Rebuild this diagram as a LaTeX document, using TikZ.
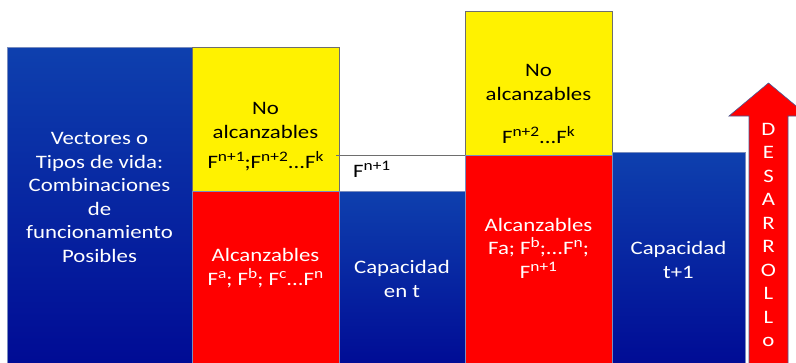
\documentclass[tikz,border=0pt]{standalone}
\usepackage{fontspec}
\setmainfont{Carlito}[FakeStretch=1.2]
\definecolor{bluetop}{RGB}{14,64,174}
\definecolor{bluebot}{RGB}{0,10,148}
\definecolor{edgeblue}{RGB}{120,140,190}
\definecolor{edgegray}{RGB}{110,110,110}
\definecolor{arrowedge}{RGB}{70,90,150}
% raised exponent for the F labels
\newcommand\sps[1]{\raisebox{0.36em}{\fontsize{14.5}{14.5}\selectfont #1}}
\tikzset{
  bluebox/.style={shading=axis, top color=bluetop, bottom color=bluebot, draw=edgeblue, line width=0.6pt},
  yellowbox/.style={fill=yellow, draw=edgegray, line width=0.6pt},
  redbox/.style={fill=red, draw=edgeblue, line width=0.4pt},
  txt/.style={anchor=base, inner sep=0pt, font=\fontsize{19}{23.5}\selectfont, align=center},
  wtxt/.style={txt, text=white},
  btxt/.style={txt, text=black},
}
\begin{document}
\begin{tikzpicture}[x=1pt, y=-1pt]
\useasboundingbox (0,0) rectangle (796,362);
\clip (0,0) rectangle (796,362);
\fill[white] (0,0) rectangle (796,362);

% columns
\path[bluebox] (7,47) rectangle (192,370);
\path[yellowbox] (192,47) rectangle (339,191);
\path[redbox] (192,191) rectangle (339,370);
\draw[edgegray, line width=1pt] (336,155) -- (467,155);
\path[bluebox] (339,191) rectangle (465,370);
\path[yellowbox] (465,11) rectangle (612,155);
\path[redbox] (465,155) rectangle (612,370);
\path[bluebox] (612,152) rectangle (745,370);

% development arrow
\path[fill=red, draw=arrowedge, line width=0.6pt]
  (749,370) -- (749,116) -- (729,116) -- (768.5,83) -- (808,116) -- (788,116) -- (788,370) -- cycle;

% labels (a multi-line node sits on the baseline of its last line)
\node[wtxt] (vec) at (99.5,262) {Vectores o\\Tipos de vida:\\Combinaciones\\de\\funcionamiento\\Posibles};
\node[btxt] (no1) at (265.5,138) {No\\alcanzables};
\node[btxt] (f1) at (265.5,168) {F\sps{n+1};F\sps{n+2}...F\sps{k}};
\node[wtxt] (al1) at (265.5,285) {Alcanzables\\F\sps{a}; F\sps{b}; F\sps{c}...F\sps{n}};
\node[btxt, anchor=base west] (fn) at (353,177) {F\sps{n+1}};
\node[wtxt] (cap1) at (402,297) {Capacidad\\en t};
\node[btxt] (no2) at (538.5,100) {No\\alcanzables};
\node[btxt] (f2) at (538.5,143) {F\sps{n+2}...F\sps{k}};
\node[wtxt] (al2) at (538.5,278) {Alcanzables\\Fa; F\sps{b};...F\sps{n};\\F\sps{n+1}};
\node[wtxt] (cap2) at (678.5,278) {Capacidad\\t+1};
\foreach \l [count=\i from 0] in {D,E,S,A,R,R,O,L,L,o}
  \node[wtxt] (d\i) at (768.5,135+23.5*\i) {\l};
\end{tikzpicture}
\end{document}
